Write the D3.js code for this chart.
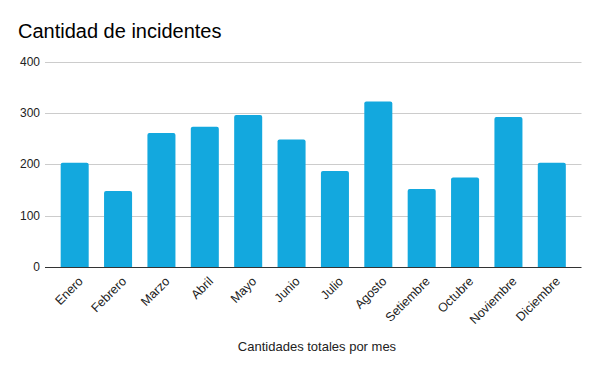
<!DOCTYPE html>
<html><head><meta charset="utf-8">
<script src="https://cdn.jsdelivr.net/npm/d3@7"></script>
<style>body{margin:0;background:#fff}svg{display:block;font-family:Arial,"Liberation Sans",sans-serif}</style>
</head><body>
<script>
const months = ["Enero","Febrero","Marzo","Abril","Mayo","Junio","Julio","Agosto","Setiembre","Octubre","Noviembre","Diciembre"];
const values = [203,148,261,273,296,248,187,322,152,174,292,203];
const yTicks = [0,100,200,300,400];
const title = "Cantidad de incidentes";
const xTitle = "Cantidades totales por mes";

const W=600,H=371;
const svg=d3.select("body").append("svg").attr("width",W).attr("height",H);
svg.append("rect").attr("width",W).attr("height",H).attr("fill","#fff");
const x=d3.scaleBand().domain(months).range([53,573.5]).paddingInner(0.354).paddingOuter(0.177);
const y=d3.scaleLinear().domain([0,400]).range([267,61.5]);

svg.append("text").attr("x",18).attr("y",38).attr("font-size",20).attr("fill","#000").text(title);

const grid=svg.append("g");
grid.selectAll("line").data(yTicks.filter(d=>d>0)).join("line")
 .attr("x1",45).attr("x2",581.5).attr("y1",d=>Math.round(y(d))+0.5).attr("y2",d=>Math.round(y(d))+0.5)
 .attr("stroke","#ccc").attr("stroke-width",1);
svg.append("g").selectAll("text").data(yTicks).join("text")
 .attr("x",40).attr("y",d=>y(d)).attr("dy","0.35em").attr("text-anchor","end")
 .attr("font-size",12).attr("fill","#222").text(d=>d);

svg.append("g").selectAll("path").data(values).join("path")
 .attr("fill","#13a8de")
 .attr("d",(d,i)=>{const x0=x(months[i]),w=x.bandwidth(),y0=y(d),y1=y(0),r=2;
   return `M${x0},${y1}V${y0+r}Q${x0},${y0} ${x0+r},${y0}H${x0+w-r}Q${x0+w},${y0} ${x0+w},${y0+r}V${y1}Z`;});

svg.append("line").attr("x1",45).attr("x2",581.5).attr("y1",267.5).attr("y2",267.5).attr("stroke","#333").attr("stroke-width",1);

svg.append("g").selectAll("text").data(months).join("text")
 .attr("transform",d=>`translate(${x(d)+x.bandwidth()/2+6},${279}) rotate(-45)`)
 .attr("text-anchor","end").attr("dy","0.35em").attr("font-size",12.5).attr("fill","#222").text(d=>d);

svg.append("text").attr("x",317).attr("y",351).attr("text-anchor","middle").attr("font-size",13).attr("fill","#222").text(xTitle);
</script>
</body></html>
